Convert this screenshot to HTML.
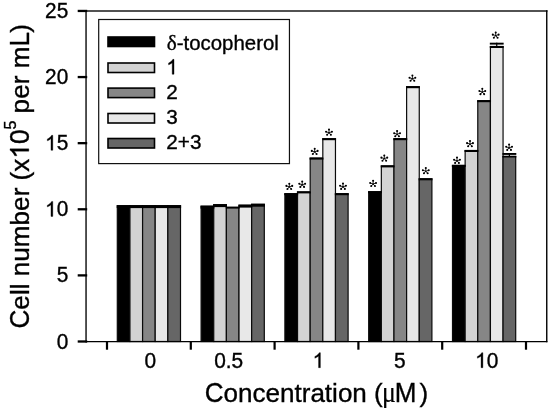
<!DOCTYPE html>
<html><head><meta charset="utf-8"><title>Cell number chart</title>
<style>
html,body{margin:0;padding:0;background:#fff;}
body{width:550px;height:410px;overflow:hidden;}
svg{display:block;filter:grayscale(1) blur(0.3px);}
text{font-family:"Liberation Sans",sans-serif;fill:#000;stroke:#000;stroke-width:0.35px;}
.g{fill:#000;stroke:#000;}
.t20{font-size:20.4px;}
.t26{font-size:26.13px;}
.t26x{font-size:26.05px;}
.sup{font-size:16px;}
.sy{font-family:"Liberation Serif",serif;}
</style></head><body>
<svg width="550" height="410" viewBox="0 0 550 410">
<rect width="550" height="410" fill="#fff"/>
<rect x="117.30" y="205.70" width="12.64" height="135.80" fill="#000000" stroke="#0a0a0a" stroke-width="1.2"/>
<rect x="129.94" y="205.70" width="12.64" height="135.80" fill="#d3d3d3" stroke="#0a0a0a" stroke-width="1.2"/>
<rect x="142.58" y="205.70" width="12.64" height="135.80" fill="#868686" stroke="#0a0a0a" stroke-width="1.2"/>
<rect x="155.22" y="205.70" width="12.64" height="135.80" fill="#e8e8e8" stroke="#0a0a0a" stroke-width="1.2"/>
<rect x="167.86" y="205.70" width="12.64" height="135.80" fill="#666666" stroke="#0a0a0a" stroke-width="1.2"/>
<rect x="116.70" y="205.20" width="13.84" height="2.9" fill="#000"/>
<rect x="129.34" y="205.20" width="13.84" height="2.9" fill="#000"/>
<rect x="141.98" y="205.20" width="13.84" height="2.9" fill="#000"/>
<rect x="154.62" y="205.20" width="13.84" height="2.9" fill="#000"/>
<rect x="167.26" y="205.20" width="13.84" height="2.9" fill="#000"/>
<rect x="201.10" y="206.20" width="12.64" height="135.30" fill="#000000" stroke="#0a0a0a" stroke-width="1.2"/>
<rect x="213.74" y="204.70" width="12.64" height="136.80" fill="#d3d3d3" stroke="#0a0a0a" stroke-width="1.2"/>
<rect x="226.38" y="207.30" width="12.64" height="134.20" fill="#868686" stroke="#0a0a0a" stroke-width="1.2"/>
<rect x="239.02" y="205.20" width="12.64" height="136.30" fill="#e8e8e8" stroke="#0a0a0a" stroke-width="1.2"/>
<rect x="251.66" y="204.30" width="12.64" height="137.20" fill="#666666" stroke="#0a0a0a" stroke-width="1.2"/>
<rect x="200.50" y="205.70" width="13.84" height="2.9" fill="#000"/>
<rect x="213.14" y="204.20" width="13.84" height="2.9" fill="#000"/>
<rect x="225.78" y="206.80" width="13.84" height="1.8" fill="#000"/>
<rect x="238.42" y="204.70" width="13.84" height="2.9" fill="#000"/>
<rect x="251.06" y="203.80" width="13.84" height="2.9" fill="#000"/>
<rect x="284.90" y="193.70" width="12.64" height="147.80" fill="#000000" stroke="#0a0a0a" stroke-width="1.2"/>
<rect x="297.54" y="191.90" width="12.64" height="149.60" fill="#d3d3d3" stroke="#0a0a0a" stroke-width="1.2"/>
<rect x="310.18" y="158.10" width="12.64" height="183.40" fill="#868686" stroke="#0a0a0a" stroke-width="1.2"/>
<rect x="322.82" y="138.70" width="12.64" height="202.80" fill="#e8e8e8" stroke="#0a0a0a" stroke-width="1.2"/>
<rect x="335.46" y="193.70" width="12.64" height="147.80" fill="#666666" stroke="#0a0a0a" stroke-width="1.2"/>
<rect x="284.30" y="193.20" width="13.84" height="2.0" fill="#000"/>
<rect x="296.94" y="191.40" width="13.84" height="2.0" fill="#000"/>
<rect x="309.58" y="157.60" width="13.84" height="2.0" fill="#000"/>
<rect x="322.22" y="138.20" width="13.84" height="2.0" fill="#000"/>
<rect x="334.86" y="193.20" width="13.84" height="2.0" fill="#000"/>
<rect x="368.70" y="191.70" width="12.64" height="149.80" fill="#000000" stroke="#0a0a0a" stroke-width="1.2"/>
<rect x="381.34" y="165.90" width="12.64" height="175.60" fill="#d3d3d3" stroke="#0a0a0a" stroke-width="1.2"/>
<rect x="393.98" y="138.70" width="12.64" height="202.80" fill="#868686" stroke="#0a0a0a" stroke-width="1.2"/>
<rect x="406.62" y="86.70" width="12.64" height="254.80" fill="#e8e8e8" stroke="#0a0a0a" stroke-width="1.2"/>
<rect x="419.26" y="178.80" width="12.64" height="162.70" fill="#666666" stroke="#0a0a0a" stroke-width="1.2"/>
<rect x="368.10" y="191.20" width="13.84" height="2.0" fill="#000"/>
<rect x="380.74" y="165.40" width="13.84" height="2.0" fill="#000"/>
<rect x="393.38" y="138.20" width="13.84" height="2.0" fill="#000"/>
<rect x="406.02" y="86.20" width="13.84" height="2.0" fill="#000"/>
<rect x="418.66" y="178.30" width="13.84" height="2.0" fill="#000"/>
<rect x="452.50" y="165.40" width="12.64" height="176.10" fill="#000000" stroke="#0a0a0a" stroke-width="1.2"/>
<rect x="465.14" y="150.50" width="12.64" height="191.00" fill="#d3d3d3" stroke="#0a0a0a" stroke-width="1.2"/>
<rect x="477.78" y="100.70" width="12.64" height="240.80" fill="#868686" stroke="#0a0a0a" stroke-width="1.2"/>
<rect x="490.42" y="46.50" width="12.64" height="295.00" fill="#e8e8e8" stroke="#0a0a0a" stroke-width="1.2"/>
<rect x="503.06" y="156.40" width="12.64" height="185.10" fill="#666666" stroke="#0a0a0a" stroke-width="1.2"/>
<rect x="451.90" y="164.90" width="13.84" height="2.0" fill="#000"/>
<rect x="464.54" y="150.00" width="13.84" height="2.0" fill="#000"/>
<rect x="477.18" y="100.20" width="13.84" height="2.0" fill="#000"/>
<rect x="489.82" y="46.00" width="13.84" height="2.0" fill="#000"/>
<rect x="489.82" y="42.70" width="13.84" height="1.9" fill="#000"/>
<rect x="496.14" y="42.70" width="1.2" height="4.30" fill="#000"/>
<rect x="502.46" y="155.90" width="13.84" height="1.6" fill="#000"/>
<rect x="502.46" y="153.00" width="13.84" height="1.9" fill="#000"/>
<rect x="508.78" y="153.00" width="1.2" height="3.90" fill="#000"/>
<path d="M86.05 341.5V10.95H546.75" fill="none" stroke="#1a1a1a" stroke-width="1.5" stroke-linecap="square"/>
<path d="M546.75 10.95V341.5" fill="none" stroke="#000" stroke-width="1.4" stroke-linecap="square"/>
<path d="M86.05 341.5H546.75" fill="none" stroke="#000" stroke-width="1.25" stroke-linecap="square"/>
<rect x="77.7" y="9.80" width="9.5" height="2.3" fill="#000"/>
<text transform="translate(45.06,18.05) scale(1,1.04)" style="font-size:20.8px">25</text>
<rect x="77.7" y="75.91" width="9.5" height="2.3" fill="#000"/>
<text transform="translate(45.06,84.16) scale(1,1.04)" style="font-size:20.8px">20</text>
<rect x="77.7" y="142.02" width="9.5" height="2.3" fill="#000"/>
<path class="g" transform="translate(45.06,150.27) scale(0.01016,-0.01016)" d="M763 0H583V1147Q518 1085 412.5 1023T223 930V1104Q374 1175 487 1276T647 1472H763Z" style="stroke-width:34.5"/><text transform="translate(56.63,150.27) scale(1,1.04)" style="font-size:20.8px">5</text>
<rect x="77.7" y="208.13" width="9.5" height="2.3" fill="#000"/>
<path class="g" transform="translate(45.06,216.38) scale(0.01016,-0.01016)" d="M763 0H583V1147Q518 1085 412.5 1023T223 930V1104Q374 1175 487 1276T647 1472H763Z" style="stroke-width:34.5"/><text transform="translate(56.63,216.38) scale(1,1.04)" style="font-size:20.8px">0</text>
<rect x="77.7" y="274.24" width="9.5" height="2.3" fill="#000"/>
<text transform="translate(56.63,282.49) scale(1,1.04)" style="font-size:20.8px">5</text>
<rect x="77.7" y="340.35" width="9.5" height="2.3" fill="#000"/>
<text transform="translate(56.63,348.60) scale(1,1.04)" style="font-size:20.8px">0</text>
<rect x="105.90" y="341.00" width="2.2" height="8.7" fill="#000"/>
<rect x="189.70" y="341.00" width="2.2" height="8.7" fill="#000"/>
<rect x="273.50" y="341.00" width="2.2" height="8.7" fill="#000"/>
<rect x="357.30" y="341.00" width="2.2" height="8.7" fill="#000"/>
<rect x="441.10" y="341.00" width="2.2" height="8.7" fill="#000"/>
<rect x="524.90" y="341.00" width="2.2" height="8.7" fill="#000"/>
<text transform="translate(144.50,367.70) scale(1,1.04)" style="font-size:20.9px">0</text>
<text transform="translate(214.20,367.70) scale(1,1.04)" style="font-size:20.9px">0.5</text>
<path class="g" transform="translate(312.60,367.70) scale(0.01021,-0.01021)" d="M763 0H583V1147Q518 1085 412.5 1023T223 930V1104Q374 1175 487 1276T647 1472H763Z" style="stroke-width:34.3"/>
<text transform="translate(394.00,367.70) scale(1,1.04)" style="font-size:20.9px">5</text>
<path class="g" transform="translate(475.10,367.70) scale(0.01021,-0.01021)" d="M763 0H583V1147Q518 1085 412.5 1023T223 930V1104Q374 1175 487 1276T647 1472H763Z" style="stroke-width:34.3"/><text transform="translate(486.72,367.70) scale(1,1.04)" style="font-size:20.9px">0</text>
<text transform="translate(204.7,401.7) scale(1,1.04)" class="t26x">C</text>
<text x="223.51" y="401.7" class="t26x">oncentration (</text>
<text transform="translate(382.0,401.7) scale(0.88,1)" class="sy" style="font-size:29.4px;stroke-width:0.2px">μ</text>
<text transform="translate(394.65,401.7) scale(1,1.04)" class="t26x">M</text>
<text x="419.5" y="401.7" class="t26x">)</text>
<g transform="translate(28.8,328.5) rotate(-90)"><text transform="scale(1,1.04)" class="t26">C</text><text x="18.87" y="0" class="t26">ell number (x</text><path class="g" transform="translate(169.90,0.00) scale(0.01276,-0.01276)" d="M763 0H583V1147Q518 1085 412.5 1023T223 930V1104Q374 1175 487 1276T647 1472H763Z" style="stroke-width:27.4"/><text transform="translate(184.43,0) scale(1,1.04)" class="t26">0</text><text transform="translate(198.96,-13.2) scale(1,1.04)" class="sup">5</text><text x="215.12" y="0" class="t26">per m</text><text transform="translate(281.91,0) scale(1,1.04)" class="t26">L</text><text x="295.74" y="0" class="t26">)</text></g>
<rect x="98.7" y="19.5" width="190.75" height="144.1" fill="#fff" stroke="#111" stroke-width="1.2"/>
<rect x="108" y="37.00" width="46.5" height="9.5" fill="#000000" stroke="#000" stroke-width="1.6"/>
<text x="166.8" y="49.50" class="t20"><tspan class="sy" style="font-size:21.2px">δ</tspan>-tocopherol</text>
<rect x="108" y="63.00" width="46.5" height="9.5" fill="#d3d3d3" stroke="#000" stroke-width="1.6"/>
<path class="g" transform="translate(166.30,74.25) scale(0.01011,-0.01011)" d="M763 0H583V1147Q518 1085 412.5 1023T223 930V1104Q374 1175 487 1276T647 1472H763Z" style="stroke-width:34.6"/>
<rect x="108" y="88.10" width="46.5" height="9.5" fill="#868686" stroke="#000" stroke-width="1.6"/>
<text transform="translate(166.30,99.25) scale(1,1.0)" style="font-size:20.7px">2</text>
<rect x="108" y="113.50" width="46.5" height="9.5" fill="#e8e8e8" stroke="#000" stroke-width="1.6"/>
<text transform="translate(166.30,124.25) scale(1,1.0)" style="font-size:20.7px">3</text>
<rect x="108" y="138.50" width="46.5" height="9.5" fill="#666666" stroke="#000" stroke-width="1.6"/>
<text transform="translate(166.30,149.25) scale(1,1.0)" style="font-size:20.7px">2+3</text>
<path d="M289.30 186.85L289.30 183.55M289.30 186.85L286.30 185.85M289.30 186.85L292.30 185.85M289.30 186.85L287.40 189.00M289.30 186.85L291.20 189.00" stroke="#000" stroke-width="0.85" stroke-linecap="round" fill="none"/>
<circle cx="289.30" cy="183.65" r="1.02" fill="#000"/>
<circle cx="286.39" cy="185.88" r="1.02" fill="#000"/>
<circle cx="292.21" cy="185.88" r="1.02" fill="#000"/>
<circle cx="287.46" cy="188.94" r="1.02" fill="#000"/>
<circle cx="291.14" cy="188.94" r="1.02" fill="#000"/>
<path d="M302.20 184.80L302.20 181.50M302.20 184.80L299.20 183.80M302.20 184.80L305.20 183.80M302.20 184.80L300.30 186.95M302.20 184.80L304.10 186.95" stroke="#000" stroke-width="0.85" stroke-linecap="round" fill="none"/>
<circle cx="302.20" cy="181.60" r="1.02" fill="#000"/>
<circle cx="299.29" cy="183.83" r="1.02" fill="#000"/>
<circle cx="305.11" cy="183.83" r="1.02" fill="#000"/>
<circle cx="300.36" cy="186.89" r="1.02" fill="#000"/>
<circle cx="304.04" cy="186.89" r="1.02" fill="#000"/>
<path d="M314.70 151.85L314.70 148.55M314.70 151.85L311.70 150.85M314.70 151.85L317.70 150.85M314.70 151.85L312.80 154.00M314.70 151.85L316.60 154.00" stroke="#000" stroke-width="0.85" stroke-linecap="round" fill="none"/>
<circle cx="314.70" cy="148.65" r="1.02" fill="#000"/>
<circle cx="311.79" cy="150.88" r="1.02" fill="#000"/>
<circle cx="317.61" cy="150.88" r="1.02" fill="#000"/>
<circle cx="312.86" cy="153.94" r="1.02" fill="#000"/>
<circle cx="316.54" cy="153.94" r="1.02" fill="#000"/>
<path d="M329.00 132.75L329.00 129.45M329.00 132.75L326.00 131.75M329.00 132.75L332.00 131.75M329.00 132.75L327.10 134.90M329.00 132.75L330.90 134.90" stroke="#000" stroke-width="0.85" stroke-linecap="round" fill="none"/>
<circle cx="329.00" cy="129.55" r="1.02" fill="#000"/>
<circle cx="326.09" cy="131.78" r="1.02" fill="#000"/>
<circle cx="331.91" cy="131.78" r="1.02" fill="#000"/>
<circle cx="327.16" cy="134.84" r="1.02" fill="#000"/>
<circle cx="330.84" cy="134.84" r="1.02" fill="#000"/>
<path d="M343.00 186.80L343.00 183.50M343.00 186.80L340.00 185.80M343.00 186.80L346.00 185.80M343.00 186.80L341.10 188.95M343.00 186.80L344.90 188.95" stroke="#000" stroke-width="0.85" stroke-linecap="round" fill="none"/>
<circle cx="343.00" cy="183.60" r="1.02" fill="#000"/>
<circle cx="340.09" cy="185.83" r="1.02" fill="#000"/>
<circle cx="345.91" cy="185.83" r="1.02" fill="#000"/>
<circle cx="341.16" cy="188.89" r="1.02" fill="#000"/>
<circle cx="344.84" cy="188.89" r="1.02" fill="#000"/>
<path d="M373.10 184.00L373.10 180.70M373.10 184.00L370.10 183.00M373.10 184.00L376.10 183.00M373.10 184.00L371.20 186.15M373.10 184.00L375.00 186.15" stroke="#000" stroke-width="0.85" stroke-linecap="round" fill="none"/>
<circle cx="373.10" cy="180.80" r="1.02" fill="#000"/>
<circle cx="370.19" cy="183.03" r="1.02" fill="#000"/>
<circle cx="376.01" cy="183.03" r="1.02" fill="#000"/>
<circle cx="371.26" cy="186.09" r="1.02" fill="#000"/>
<circle cx="374.94" cy="186.09" r="1.02" fill="#000"/>
<path d="M384.30 158.60L384.30 155.30M384.30 158.60L381.30 157.60M384.30 158.60L387.30 157.60M384.30 158.60L382.40 160.75M384.30 158.60L386.20 160.75" stroke="#000" stroke-width="0.85" stroke-linecap="round" fill="none"/>
<circle cx="384.30" cy="155.40" r="1.02" fill="#000"/>
<circle cx="381.39" cy="157.63" r="1.02" fill="#000"/>
<circle cx="387.21" cy="157.63" r="1.02" fill="#000"/>
<circle cx="382.46" cy="160.69" r="1.02" fill="#000"/>
<circle cx="386.14" cy="160.69" r="1.02" fill="#000"/>
<path d="M397.10 134.25L397.10 130.95M397.10 134.25L394.10 133.25M397.10 134.25L400.10 133.25M397.10 134.25L395.20 136.40M397.10 134.25L399.00 136.40" stroke="#000" stroke-width="0.85" stroke-linecap="round" fill="none"/>
<circle cx="397.10" cy="131.05" r="1.02" fill="#000"/>
<circle cx="394.19" cy="133.28" r="1.02" fill="#000"/>
<circle cx="400.01" cy="133.28" r="1.02" fill="#000"/>
<circle cx="395.26" cy="136.34" r="1.02" fill="#000"/>
<circle cx="398.94" cy="136.34" r="1.02" fill="#000"/>
<path d="M412.40 78.75L412.40 75.45M412.40 78.75L409.40 77.75M412.40 78.75L415.40 77.75M412.40 78.75L410.50 80.90M412.40 78.75L414.30 80.90" stroke="#000" stroke-width="0.85" stroke-linecap="round" fill="none"/>
<circle cx="412.40" cy="75.55" r="1.02" fill="#000"/>
<circle cx="409.49" cy="77.78" r="1.02" fill="#000"/>
<circle cx="415.31" cy="77.78" r="1.02" fill="#000"/>
<circle cx="410.56" cy="80.84" r="1.02" fill="#000"/>
<circle cx="414.24" cy="80.84" r="1.02" fill="#000"/>
<path d="M425.80 171.25L425.80 167.95M425.80 171.25L422.80 170.25M425.80 171.25L428.80 170.25M425.80 171.25L423.90 173.40M425.80 171.25L427.70 173.40" stroke="#000" stroke-width="0.85" stroke-linecap="round" fill="none"/>
<circle cx="425.80" cy="168.05" r="1.02" fill="#000"/>
<circle cx="422.89" cy="170.28" r="1.02" fill="#000"/>
<circle cx="428.71" cy="170.28" r="1.02" fill="#000"/>
<circle cx="423.96" cy="173.34" r="1.02" fill="#000"/>
<circle cx="427.64" cy="173.34" r="1.02" fill="#000"/>
<path d="M457.00 160.80L457.00 157.50M457.00 160.80L454.00 159.80M457.00 160.80L460.00 159.80M457.00 160.80L455.10 162.95M457.00 160.80L458.90 162.95" stroke="#000" stroke-width="0.85" stroke-linecap="round" fill="none"/>
<circle cx="457.00" cy="157.60" r="1.02" fill="#000"/>
<circle cx="454.09" cy="159.83" r="1.02" fill="#000"/>
<circle cx="459.91" cy="159.83" r="1.02" fill="#000"/>
<circle cx="455.16" cy="162.89" r="1.02" fill="#000"/>
<circle cx="458.84" cy="162.89" r="1.02" fill="#000"/>
<path d="M470.00 144.10L470.00 140.80M470.00 144.10L467.00 143.10M470.00 144.10L473.00 143.10M470.00 144.10L468.10 146.25M470.00 144.10L471.90 146.25" stroke="#000" stroke-width="0.85" stroke-linecap="round" fill="none"/>
<circle cx="470.00" cy="140.90" r="1.02" fill="#000"/>
<circle cx="467.09" cy="143.13" r="1.02" fill="#000"/>
<circle cx="472.91" cy="143.13" r="1.02" fill="#000"/>
<circle cx="468.16" cy="146.19" r="1.02" fill="#000"/>
<circle cx="471.84" cy="146.19" r="1.02" fill="#000"/>
<path d="M482.30 92.05L482.30 88.75M482.30 92.05L479.30 91.05M482.30 92.05L485.30 91.05M482.30 92.05L480.40 94.20M482.30 92.05L484.20 94.20" stroke="#000" stroke-width="0.85" stroke-linecap="round" fill="none"/>
<circle cx="482.30" cy="88.85" r="1.02" fill="#000"/>
<circle cx="479.39" cy="91.08" r="1.02" fill="#000"/>
<circle cx="485.21" cy="91.08" r="1.02" fill="#000"/>
<circle cx="480.46" cy="94.14" r="1.02" fill="#000"/>
<circle cx="484.14" cy="94.14" r="1.02" fill="#000"/>
<path d="M495.70 35.60L495.70 32.30M495.70 35.60L492.70 34.60M495.70 35.60L498.70 34.60M495.70 35.60L493.80 37.75M495.70 35.60L497.60 37.75" stroke="#000" stroke-width="0.85" stroke-linecap="round" fill="none"/>
<circle cx="495.70" cy="32.40" r="1.02" fill="#000"/>
<circle cx="492.79" cy="34.63" r="1.02" fill="#000"/>
<circle cx="498.61" cy="34.63" r="1.02" fill="#000"/>
<circle cx="493.86" cy="37.69" r="1.02" fill="#000"/>
<circle cx="497.54" cy="37.69" r="1.02" fill="#000"/>
<path d="M509.10 147.80L509.10 144.50M509.10 147.80L506.10 146.80M509.10 147.80L512.10 146.80M509.10 147.80L507.20 149.95M509.10 147.80L511.00 149.95" stroke="#000" stroke-width="0.85" stroke-linecap="round" fill="none"/>
<circle cx="509.10" cy="144.60" r="1.02" fill="#000"/>
<circle cx="506.19" cy="146.83" r="1.02" fill="#000"/>
<circle cx="512.01" cy="146.83" r="1.02" fill="#000"/>
<circle cx="507.26" cy="149.89" r="1.02" fill="#000"/>
<circle cx="510.94" cy="149.89" r="1.02" fill="#000"/>
</svg>
</body></html>
